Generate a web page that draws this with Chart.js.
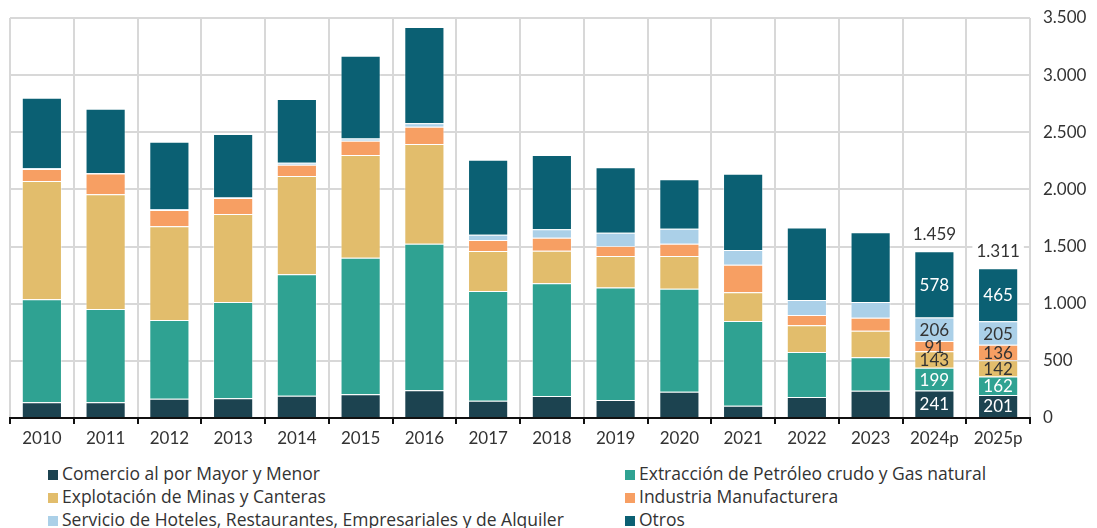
<!DOCTYPE html>
<html>
<head>
<meta charset="utf-8">
<script src="https://cdn.jsdelivr.net/npm/chart.js@4/dist/chart.umd.min.js"></script>
<style>
  body{margin:0;background:#fff;font-family:Lato, "Open Sans", sans-serif;}
  #wrap{position:relative;width:1097px;height:528px;}
  #legend{position:absolute;left:48px;top:462px;width:1040px;font-family:"Open Sans", sans-serif;font-size:17.5px;color:#333;}
  .item{position:absolute;white-space:nowrap;line-height:22px;}
  .item span{display:inline-block;width:10px;height:10px;margin-right:4px;vertical-align:0px;}
</style>
</head>
<body>
<div id="wrap">
  <canvas id="chart" width="1097" height="455"></canvas>
  <div id="legend"></div>
</div>
<script>
// categories and series
const years = ["2010","2011","2012","2013","2014","2015","2016","2017","2018","2019","2020","2021","2022","2023","2024p","2025p"];
const comercio  = [137,137,169,172,195,207,242,151,193,158,230,108,184,239,241,201];
const petroleo  = [901,816,689,843,1062,1195,1283,960,986,983,901,741,394,292,199,162];
const mineria   = [1035,1004,820,770,860,899,872,350,285,277,286,251,234,233,143,142];
const industria = [105,182,143,140,99,125,151,96,114,88,108,242,90,114,91,136];
const hoteles   = [7,4,5,4,18,20,30,46,73,114,131,128,131,137,206,205];
const otros     = [618,563,592,557,557,723,843,656,650,575,432,668,633,610,578,465];
// totals shown above the projected bars
const totales   = [null,null,null,null,null,null,null,null,null,null,null,null,null,null,1459,1311];
const yTicks    = [0,500,1000,1500,2000,2500,3000,3500];

const series = [
  {label:"Comercio al por Mayor y Menor", data:comercio, color:"#1c4350", txt:"#fff"},
  {label:"Extracción de Petróleo crudo y Gas natural", data:petroleo, color:"#2fa292", txt:"#fff"},
  {label:"Explotación de Minas y Canteras", data:mineria, color:"#e2bd6c", txt:"#333"},
  {label:"Industria Manufacturera", data:industria, color:"#f79f63", txt:"#333"},
  {label:"Servicio de Hoteles, Restaurantes, Empresariales y de Alquiler", data:hoteles, color:"#abd0e8", txt:"#333"},
  {label:"Otros", data:otros, color:"#0b6073", txt:"#fff"}
];

const fmt = v => String(v).replace(/\B(?=(\d{3})+(?!\d))/g, ".");
const FONT = "Lato, 'Open Sans', sans-serif";

// draws values inside the projected bars and totals on top
const valuePlugin = {
  id: "valueLabels",
  afterDatasetsDraw(chart){
    const ctx = chart.ctx;
    ctx.save();
    ctx.font = "17px " + FONT;
    ctx.textAlign = "center";
    ctx.textBaseline = "middle";
    totales.forEach((t, i) => {
      if(t === null) return;
      chart.data.datasets.forEach((ds, d) => {
        const bar = chart.getDatasetMeta(d).data[i];
        ctx.fillStyle = series[d].txt;
        ctx.fillText(fmt(ds.data[i]), bar.x, (bar.y + bar.base) / 2 + 1);
      });
      const top = chart.getDatasetMeta(chart.data.datasets.length - 1).data[i];
      const label = fmt(t);
      const w = ctx.measureText(label).width + 8;
      const y = top.y - 17;
      ctx.fillStyle = "#fff";
      ctx.fillRect(top.x - w / 2, y - 10, w, 20);
      ctx.fillStyle = "#333";
      ctx.fillText(label, top.x, y);
    });
    ctx.restore();
  }
};

new Chart(document.getElementById("chart"), {
  type: "bar",
  data: {
    labels: years,
    datasets: series.map(s => ({
      label: s.label,
      data: s.data,
      backgroundColor: s.color,
      borderColor: "rgba(255,255,255,0.45)",
      borderWidth: 1,
      barPercentage: 0.63,
      categoryPercentage: 1
    }))
  },
  options: {
    responsive: false,
    animation: false,
    layout: {padding: {left: 10, top: 18, right: 0, bottom: 0}},
    plugins: {legend: {display: false}, tooltip: {enabled: false}},
    scales: {
      x: {
        stacked: true,
        offset: true,
        grid: {color: "#d8d8d8", lineWidth: 2, offset: true, tickColor: "#111", tickLength: 6, tickWidth: 2},
        border: {color: "#111", width: 2},
        ticks: {color: "#333", font: {family: FONT, size: 17}, padding: 4},
        afterFit(scale){ scale.height = 37; scale.paddingTop = 0; scale.paddingBottom = 0; }
      },
      y: {
        stacked: true,
        position: "right",
        min: 0,
        max: 3500,
        afterBuildTicks(scale){ scale.ticks = yTicks.map(v => ({value: v})); },
        grid: {color: "#d8d8d8", lineWidth: 2, drawTicks: false},
        border: {display: false},
        ticks: {color: "#333", font: {family: FONT, size: 17}, padding: 13, callback: v => fmt(v)},
        afterFit(scale){ scale.width = 67; scale.paddingTop = 0; scale.paddingBottom = 0; }
      }
    }
  },
  plugins: [valuePlugin]
});

// legend in two columns under the chart
const legend = document.getElementById("legend");
series.forEach((s, i) => {
  const el = document.createElement("div");
  el.className = "item";
  el.style.left = (i % 2 ? 577 : 0) + "px";
  el.style.top = (Math.floor(i / 2) * 23) + "px";
  el.innerHTML = '<span style="background:' + s.color + '"></span>' + s.label;
  legend.appendChild(el);
});
</script>
</body>
</html>
